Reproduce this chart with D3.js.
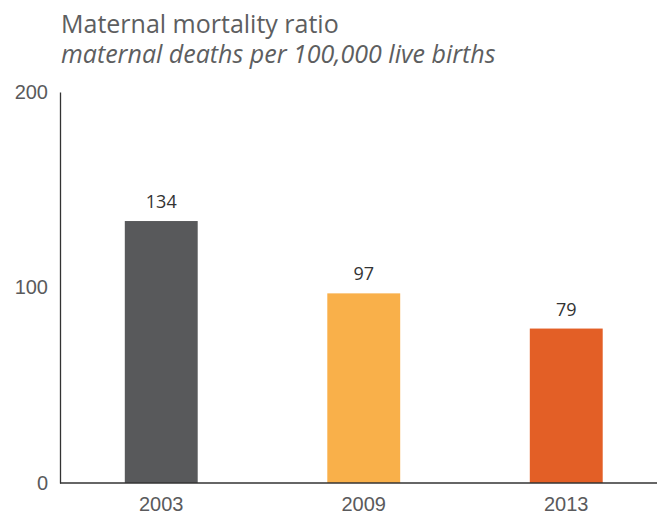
<!DOCTYPE html>
<html lang="en">
<head>
<meta charset="utf-8" />
<title>Maternal mortality ratio</title>
<script src="https://d3js.org/d3.v7.min.js"></script>
<style>
  body { margin: 0; background: #fff; }
  svg  { display: block; font-family: "Open Sans", sans-serif; }
  .tick-label { font-size: 20px; font-weight: 300; fill: #5a5a5c; }
  .value      { font-size: 18px; fill: #333; text-anchor: middle; }
  .title      { font-size: 25px; fill: #5d5e60; }
</style>
</head>
<body>
<svg id="chart" width="657" height="519"></svg>
<script>
// data
const years  = ["2003", "2009", "2013"];
const values = [134, 97, 79];
const colors = ["#58595b", "#f9b04a", "#e35f26"];
const yTicks = [0, 100, 200];

const svg = d3.select("#chart");

const x = d3.scaleBand()
  .domain(years)
  .range([60, 667.5])
  .paddingInner(0.64)
  .paddingOuter(0.32);

const y = d3.scaleLinear()
  .domain([0, 200])
  .range([483, 92]);

// title
svg.append("text").attr("class", "title")
  .attr("x", 61).attr("y", 33)
  .text("Maternal mortality ratio");
svg.append("text").attr("class", "title")
  .attr("x", 61).attr("y", 63)
  .style("font-style", "italic")
  .text("maternal deaths per 100,000 live births");

// bars
svg.append("g").selectAll("rect")
  .data(years)
  .enter().append("rect")
    .attr("x", d => x(d))
    .attr("width", x.bandwidth())
    .attr("y", (d, i) => y(values[i]))
    .attr("height", (d, i) => y(0) - y(values[i]))
    .attr("fill", (d, i) => colors[i]);

// value labels
svg.append("g").selectAll("text")
  .data(years)
  .enter().append("text")
    .attr("class", "value")
    .attr("x", d => x(d) + x.bandwidth() / 2)
    .attr("y", (d, i) => y(values[i]) - 13)
    .text((d, i) => values[i]);

// y axis
const yAxis = svg.append("g")
  .attr("transform", "translate(60,0)")
  .call(d3.axisLeft(y).tickValues(yTicks).tickSize(0).tickPadding(12));
yAxis.select(".domain").attr("stroke", "#333").attr("stroke-width", 1.3);
yAxis.selectAll(".tick text").attr("class", "tick-label")
  .attr("font-family", null).attr("font-size", null).attr("fill", null);

// x axis
const xAxis = svg.append("g")
  .attr("transform", "translate(0,483)")
  .call(d3.axisBottom(x).tickSize(0).tickPadding(14));
xAxis.select(".domain").attr("d", "M60,0H657").attr("stroke", "#333").attr("stroke-width", 1.3);
xAxis.selectAll(".tick text").attr("class", "tick-label")
  .attr("font-family", null).attr("font-size", null).attr("fill", null);
</script>
</body>
</html>
